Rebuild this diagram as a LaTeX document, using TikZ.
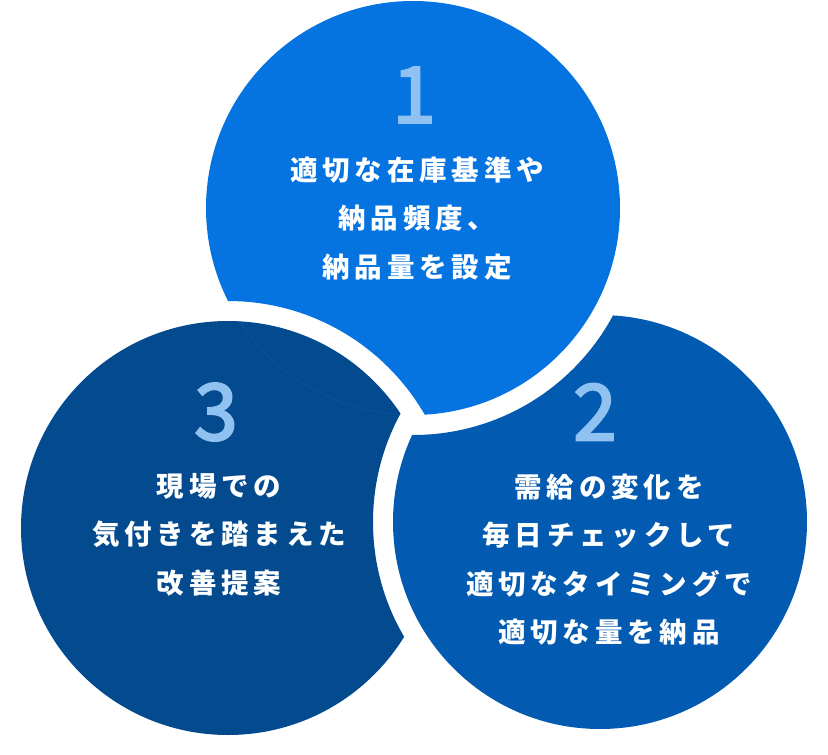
\documentclass[tikz,border=0pt]{standalone}
\usepackage{fontspec}
\setmainfont{Noto Sans CJK JP}
\newfontfamily\jpfont{Noto Sans CJK JP}[LetterSpace=17.5]
\newfontfamily\numfont{Noto Sans CJK JP}[FakeBold=3]
\definecolor{cone}{HTML}{0574E1}
\definecolor{ctwo}{HTML}{025AB1}
\definecolor{cthree}{HTML}{034A8F}
\definecolor{cnum}{HTML}{8FC1F1}
\tikzset{
  numlabel/.style={text=cnum, inner sep=0pt, font=\numfont\fontsize{78}{78}\selectfont},
  bodytext/.style={text=white, inner sep=0pt, align=center, font=\jpfont\bfseries\fontsize{27.5}{48.5}\selectfont},
}
\begin{document}
\begin{tikzpicture}[x=1pt,y=-1pt]
\useasboundingbox (0,0) rectangle (828,755);
\def\R{207}
\def\RW{227}
\coordinate (c1) at (413,208);
\coordinate (c2) at (600,522);
\coordinate (c3) at (228,528);
% circle 1: lies over circle 2, cut by the white gap round circle 3
\begin{scope}
  \clip (c1) circle (\R);
  \fill[cone, even odd rule] (-10,-10) rectangle (840,770) (c3) circle (\RW);
\end{scope}
% circle 2: lies over circle 3, cut by the white gap round circle 1
\begin{scope}
  \clip (c2) circle (\R);
  \fill[ctwo, even odd rule] (-10,-10) rectangle (840,770) (c1) circle (\RW);
\end{scope}
% circle 3: lies over circle 1, cut by the white gap round circle 2
\begin{scope}
  \clip (c3) circle (\R);
  \fill[cthree, even odd rule] (-10,-10) rectangle (840,770) (c2) circle (\RW);
  \draw[cthree!72!cone, line width=0.7pt] (c1) ++(147.5:\R) arc[start angle=147.5, end angle=94.2, radius=\R];
\end{scope}
% labels
\node[numlabel] (n1) at (414,95) {1};
\node[numlabel] (n2) at (595,412) {2};
\node[numlabel] (n3) at (216,412) {3};
\node[bodytext] (t1) at (417,218.5) {適切な在庫基準や\\納品頻度、\\納品量を設定};
\node[bodytext] (t2) at (609,559.5) {需給の変化を\\毎日チェックして\\適切なタイミングで\\適切な量を納品};
\node[bodytext] (t3) at (219,534.5) {現場での\\気付きを踏まえた\\改善提案};
\end{tikzpicture}
\end{document}
